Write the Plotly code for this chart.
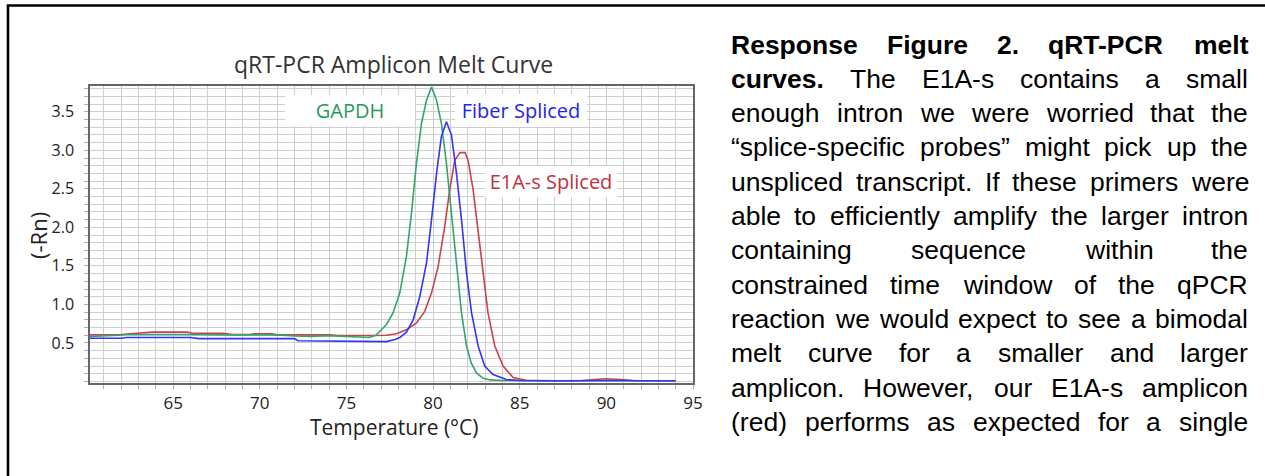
import plotly.graph_objects as go

# ---------------- data ----------------
gapdh_x = [60.2, 61.0, 61.9, 62.3, 64, 66, 68, 70, 71, 72, 73, 74, 75, 75.8, 76.3, 76.7, 76.92, 77.31,
           77.69, 78.08, 78.46, 78.75, 79.04, 79.33, 79.62, 79.91, 80.2, 80.48, 80.77, 81.06, 81.35,
           81.64, 81.93, 82.2, 82.5, 82.89, 83.3, 84, 86, 88, 90, 92, 94]
gapdh_y = [0.585, 0.59, 0.60, 0.61, 0.612, 0.61, 0.605, 0.60, 0.605, 0.59, 0.585, 0.595, 0.585, 0.57,
           0.57, 0.60, 0.65, 0.74, 0.89, 1.15, 1.62, 2.18, 2.83, 3.35, 3.65, 3.82, 3.65, 3.35, 2.83,
           2.18, 1.49, 0.89, 0.46, 0.24, 0.11, 0.04, 0.02, 0.012, 0.01, 0.01, 0.012, 0.01, 0.01]

fiber_x = [60.2, 62, 62.3, 66, 66.5, 70, 72, 72.2, 76.9, 77.3, 77.8, 78.08, 78.46, 78.85, 79.23, 79.62,
           79.91, 80.2, 80.48, 80.77, 81.06, 81.35, 81.64, 81.93, 82.22, 82.6, 82.98, 83.46, 84.23, 85,
           87, 89, 90, 91, 92, 94]
fiber_y = [0.56, 0.56, 0.57, 0.57, 0.556, 0.556, 0.556, 0.528, 0.526, 0.517, 0.545, 0.57, 0.64, 0.80,
           1.10, 1.54, 2.10, 2.70, 3.18, 3.37, 3.20, 2.70, 2.10, 1.41, 0.89, 0.46, 0.20, 0.09, 0.025,
           0.012, 0.01, 0.012, 0.02, 0.012, 0.01, 0.01]

e1a_x = [60.2, 62, 62.9, 63.8, 65.8, 66.1, 67.9, 68.4, 69.4, 69.7, 70.7, 71, 74, 74.5, 76.3, 77.3,
         77.88, 78.46, 79.04, 79.52, 79.91, 80.29, 80.67, 80.96, 81.25, 81.55, 81.85, 82.02, 82.31,
         82.6, 82.89, 83.17, 83.56, 84.04, 84.62, 85.38, 87, 88.5, 89.3, 90, 90.8, 91.5, 93, 94]
e1a_y = [0.607, 0.61, 0.625, 0.64, 0.64, 0.626, 0.626, 0.61, 0.61, 0.62, 0.62, 0.605, 0.605, 0.596,
         0.596, 0.60, 0.62, 0.67, 0.76, 0.91, 1.15, 1.49, 2.01, 2.49, 2.87, 2.97, 2.97, 2.87, 2.49,
         1.97, 1.41, 0.89, 0.46, 0.20, 0.05, 0.015, 0.01, 0.01, 0.025, 0.035, 0.025, 0.012, 0.01, 0.01]

x_tickvals = [65, 70, 75, 80, 85, 90, 95]
y_tickvals = [0.5, 1.0, 1.5, 2.0, 2.5, 3.0, 3.5]
y_ticktext = ["0.5", "1.0", "1.5", "2.0", "2.5", "3.0", "3.5"]

chart_title = "qRT-PCR Amplicon Melt Curve"
x_title = "Temperature (°C)"
y_title = "(-Rn)"

series_names = ["E1A-s Spliced", "GAPDH", "Fiber Spliced"]
series_colors = ["#c9424c", "#34a56b", "#3535f5"]
label_colors = ["#c0323c", "#1f9a5a", "#2323ee"]

text_lines = [
    "Response Figure 2. qRT-PCR melt",
    "curves. The E1A-s contains a small",
    "enough intron we were worried that the",
    "\u201csplice-specific probes\u201d might pick up the",
    "unspliced transcript. If these primers were",
    "able to efficiently amplify the larger intron",
    "containing sequence within the",
    "constrained time window of the qPCR",
    "reaction we would expect to see a bimodal",
    "melt curve for a smaller and larger",
    "amplicon. However, our E1A-s amplicon",
    "(red) performs as expected for a single",
]
bold_leading_words = [5, 1, 0, 0, 0, 0, 0, 0, 0, 0, 0, 0]

# ---------------- layout geometry (pixels) ----------------
W, H = 1265, 476
PL, PR, PT, PB = 90, 693, 86, 383


def px(x):
    return (x - PL) / (PR - PL)


def py(y):
    return (PB - y) / (PB - PT)


# Arial / Liberation Sans advance widths (per 1000 em)
REG = dict(zip("abcdefghijklmnopqrstuvwxyz",
               [556, 556, 500, 556, 556, 278, 556, 556, 222, 222, 500, 222, 833, 556, 556, 556, 556,
                333, 500, 278, 556, 500, 722, 500, 500, 500]))
REG.update(zip("ABCDEFGHIJKLMNOPQRSTUVWXYZ",
               [667, 667, 722, 722, 667, 611, 778, 722, 278, 500, 667, 556, 833, 722, 778, 667, 778,
                722, 667, 611, 722, 667, 944, 667, 667, 611]))
BOLD = dict(zip("abcdefghijklmnopqrstuvwxyz",
                [556, 611, 556, 611, 556, 333, 611, 611, 278, 278, 556, 278, 889, 611, 611, 611, 611,
                 389, 556, 333, 611, 556, 778, 556, 556, 500]))
BOLD.update(zip("ABCDEFGHIJKLMNOPQRSTUVWXYZ",
                [722, 722, 722, 722, 667, 611, 778, 722, 278, 556, 722, 611, 833, 722, 778, 667, 778,
                 722, 667, 611, 722, 667, 944, 667, 667, 611]))
for d in (REG, BOLD):
    for ch in "0123456789":
        d[ch] = 556
    d.update({".": 278, ",": 278, "-": 333, "(": 333, ")": 333, "\u201c": 333, "\u201d": 333})


def word_width(w, bold, fs):
    t = BOLD if bold else REG
    return sum(t.get(c, 556) for c in w) * fs / 1000.0


fig = go.Figure()
traces = [(e1a_x, e1a_y), (gapdh_x, gapdh_y), (fiber_x, fiber_y)]
for (xs, ys), name, col in zip(traces, series_names, series_colors):
    fig.add_trace(go.Scatter(x=xs, y=ys, mode="lines", name=name,
                             line=dict(color=col, width=1.6), hoverinfo="skip"))

grid_col = "#cecece"

fig.update_xaxes(range=[60.2, 95], tickvals=x_tickvals, ticks="outside", ticklen=4,
                 tickcolor="#b0b0b0", showgrid=True, gridcolor=grid_col, gridwidth=1.3,
                 minor=dict(dtick=1, showgrid=True, gridcolor=grid_col, gridwidth=1.3,
                            ticks="outside", ticklen=4, tickcolor="#b0b0b0"),
                 showline=True, linecolor="#666", linewidth=1.5, mirror=True, zeroline=False,
                 tickfont=dict(family="Open Sans, sans-serif", size=17, color="#222"),
                 automargin=False, ticklabelstandoff=0)
fig.update_yaxes(range=[-0.02, 3.835], tickvals=y_tickvals, ticktext=y_ticktext, ticks="outside",
                 ticklen=4, tickcolor="#b0b0b0", showgrid=True, gridcolor=grid_col, gridwidth=1.3,
                 minor=dict(dtick=0.1, tick0=0, showgrid=True, gridcolor=grid_col, gridwidth=1.3,
                            ticks="outside", ticklen=4, tickcolor="#b0b0b0"),
                 showline=True, linecolor="#666", linewidth=1.5, mirror=True, zeroline=False,
                 tickfont=dict(family="Open Sans, sans-serif", size=16, color="#222"),
                 automargin=False, ticklabelstandoff=7)

ann = []
# chart title and axis titles
ann.append(dict(text=chart_title, x=px(393), y=py(64), xref="paper", yref="paper",
                showarrow=False, xanchor="center", yanchor="middle",
                font=dict(family="Open Sans, sans-serif", size=23, color="#333")))
ann.append(dict(text=x_title, x=px(394), y=py(427), xref="paper", yref="paper",
                showarrow=False, xanchor="center", yanchor="middle",
                font=dict(family="Open Sans, sans-serif", size=21, color="#222")))
ann.append(dict(text=y_title, x=px(38), y=py(236), xref="paper", yref="paper", textangle=-90,
                showarrow=False, xanchor="center", yanchor="middle",
                font=dict(family="Open Sans, sans-serif", size=22, color="#222")))

# series labels in white boxes (pixel centres and box sizes)
label_boxes = {"GAPDH": (350, 111, 130, 31), "Fiber Spliced": (521, 111, 132, 33),
               "E1A-s Spliced": (551, 181, 132, 31)}
for name, col in zip(series_names, label_colors):
    cx, cy, bw, bh = label_boxes[name]
    ann.append(dict(text=name, x=px(cx), y=py(cy), xref="paper", yref="paper", showarrow=False,
                    xanchor="center", yanchor="middle", width=bw, height=bh, bgcolor="white",
                    borderpad=0, borderwidth=0,
                    font=dict(family="Open Sans, sans-serif", size=20, color=col)))

# justified paragraph, word by word
FS = 26.5
TL, TR = 730, 1247
for i, line in enumerate(text_lines):
    words = line.split(" ")
    nb = bold_leading_words[i]
    widths = [word_width(w, k < nb, FS) for k, w in enumerate(words)]
    gap = (TR - TL - sum(widths)) / (len(words) - 1)
    centre = 44.5 + 34.3 * i
    xcur = TL
    for k, w in enumerate(words):
        txt = "<b>%s</b>" % w if k < nb else w
        ann.append(dict(text=txt, x=px(xcur), y=py(centre), xref="paper", yref="paper",
                        showarrow=False, xanchor="left", yanchor="middle", borderpad=0,
                        font=dict(family="Liberation Sans, Arial, sans-serif", size=FS,
                                  color="#000")))
        xcur += widths[k] + gap

shapes = [dict(type="rect", xref="paper", yref="paper", x0=px(8), x1=px(1285), y0=py(495),
               y1=py(5.5), line=dict(color="black", width=2.6), fillcolor="rgba(0,0,0,0)")]

fig.update_layout(width=W, height=H, autosize=False, showlegend=False,
                  margin=dict(l=PL, r=W - PR, t=PT, b=H - PB, pad=0),
                  paper_bgcolor="white", plot_bgcolor="white",
                  annotations=ann, shapes=shapes)

fig.write_html("out.html", config={"displayModeBar": False},
               post_script="document.body.style.margin='0';document.body.style.overflow='hidden';")
